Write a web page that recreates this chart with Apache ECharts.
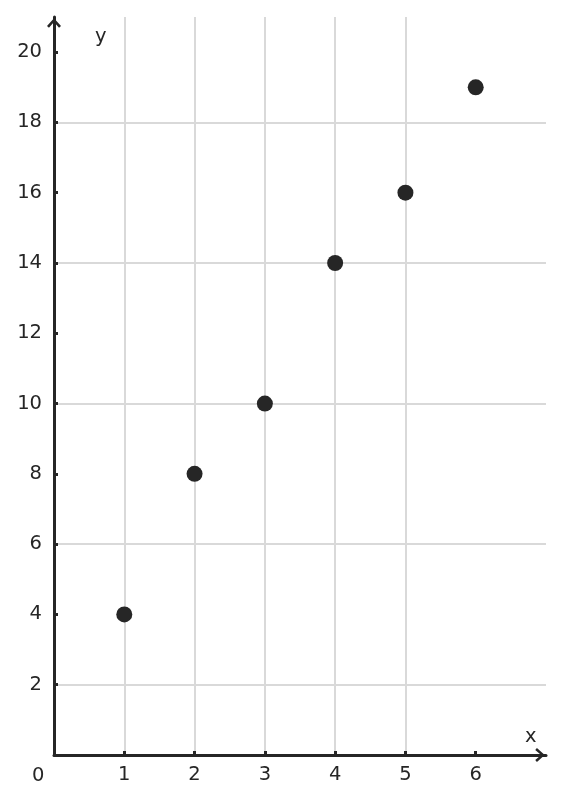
<!DOCTYPE html>
<html><head><meta charset="utf-8">
<script src="https://cdn.jsdelivr.net/npm/echarts@6/dist/echarts.min.js"></script>
<style>html,body{margin:0;padding:0;background:#fff}#c{width:563px;height:803px}</style>
</head><body><div id="c"></div>
<script>
const xValues = [1, 2, 3, 4, 5, 6];
const yValues = [4, 8, 10, 14, 16, 19];
const xTicks = [1, 2, 3, 4, 5, 6];
const yTicks = [2, 4, 6, 8, 10, 12, 14, 16, 18, 20];

const ink = '#262626';
const gridCol = '#d9d9d9';
const font = 'DejaVu Sans';
const chevron = 'path://M5,0 L10,5.6 L8.6,6.8 L5,2.6 L1.4,6.8 L0,5.6 Z';

const chart = echarts.init(document.getElementById('c'), null, {renderer: 'canvas'});
chart.setOption({
  animation: false,
  grid: {left: 54, right: 17, top: 17, bottom: 48, containLabel: false},
  xAxis: {
    type: 'value', min: 0, max: 7, interval: 1,
    axisLine: {show: true, lineStyle: {color: ink, width: 3}, symbol: ['none', chevron], symbolSize: [14, 10], symbolOffset: [0, -6]},
    axisTick: {show: true, inside: true, length: 4, lineStyle: {color: ink, width: 3}, customValues: xTicks},
    axisLabel: {color: ink, fontFamily: font, fontSize: 19.5, margin: 10, customValues: xTicks},
    splitLine: {show: true, showMinLine: true, showMaxLine: false, lineStyle: {color: gridCol, width: 2}}
  },
  yAxis: {
    type: 'value', min: 0, max: 21, interval: 1,
    axisLine: {show: true, lineStyle: {color: ink, width: 3}, symbol: ['none', chevron], symbolSize: [14, 10], symbolOffset: [0, -6]},
    axisTick: {show: true, inside: true, length: 4, lineStyle: {color: ink, width: 3}, customValues: yTicks},
    axisLabel: {color: ink, fontFamily: font, fontSize: 19.5, margin: 12, customValues: yTicks},
    splitLine: {show: true, showMinLine: true, showMaxLine: false,
      lineStyle: {color: [gridCol, 'rgba(0,0,0,0)'], width: 2}}
  },
  graphic: [
    {type: 'text', left: 95, top: 27, style: {text: 'y', font: '19.5px "DejaVu Sans"', fill: ink}},
    {type: 'text', left: 525, top: 727, style: {text: 'x', font: '19.5px "DejaVu Sans"', fill: ink}},
    {type: 'text', left: 32, top: 766, style: {text: '0', font: '19.5px "DejaVu Sans"', fill: ink}}
  ],
  series: [{
    type: 'scatter',
    data: xValues.map((x, i) => [x, yValues[i]]),
    symbol: 'circle', symbolSize: 16,
    itemStyle: {color: ink, opacity: 1}
  }]
});
</script></body></html>
